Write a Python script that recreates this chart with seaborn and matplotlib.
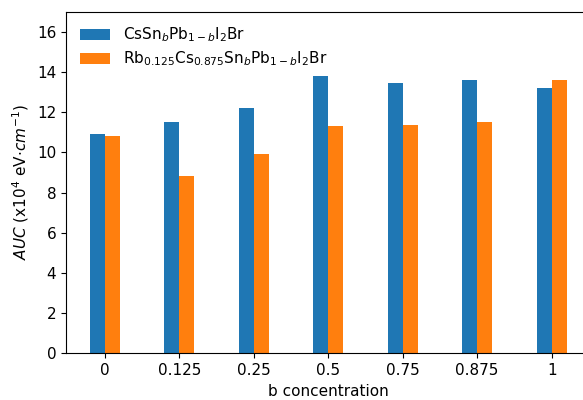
import matplotlib
matplotlib.use("Agg")
import matplotlib.pyplot as plt
import seaborn as sns
import pandas as pd

# b concentrations (categorical x axis)
concentrations = ["0", "0.125", "0.25", "0.5", "0.75", "0.875", "1"]

# Area under the curve (x10^4 eV·cm^-1) for each composition
auc_cs = [10.93, 11.51, 12.22, 13.78, 13.46, 13.58, 13.21]
auc_rbcs = [10.80, 8.81, 9.90, 11.32, 11.36, 11.51, 13.61]

series_labels = [
    r"CsSn$_b$Pb$_{1-b}$I$_2$Br",
    r"Rb$_{0.125}$Cs$_{0.875}$Sn$_b$Pb$_{1-b}$I$_2$Br",
]

df = pd.DataFrame({
    "b": concentrations * 2,
    "auc": auc_cs + auc_rbcs,
    "material": [series_labels[0]] * len(concentrations)
    + [series_labels[1]] * len(concentrations),
})

plt.rcParams["font.size"] = 11
plt.rcParams["savefig.bbox"] = "standard"

fig = plt.figure(figsize=(5.83, 4.0), dpi=100)
# the axes run slightly past the right edge of the canvas
ax = fig.add_axes([0.1132, 0.1168, 0.8995, 0.8538])

sns.barplot(
    data=df, x="b", y="auc", hue="material",
    order=concentrations, hue_order=series_labels,
    palette=["#1f77b4", "#ff7f0e"], saturation=1,
    width=0.4, gap=0, errorbar=None, linewidth=0, ax=ax,
)

ax.set_ylim(0, 17)
ax.set_yticks(range(0, 17, 2))
ax.set_xlim(-0.52, 6.52)
ax.spines["right"].set_visible(False)
ax.set_xlabel("b concentration")
ax.set_ylabel(r"$AUC$ (x10$^4$ eV$\cdot$$cm^{-1}$)")
ax.legend(loc="upper left", frameon=False, title=None, labelspacing=0.35)

fig.savefig("out.png", dpi=100, bbox_inches=None)
